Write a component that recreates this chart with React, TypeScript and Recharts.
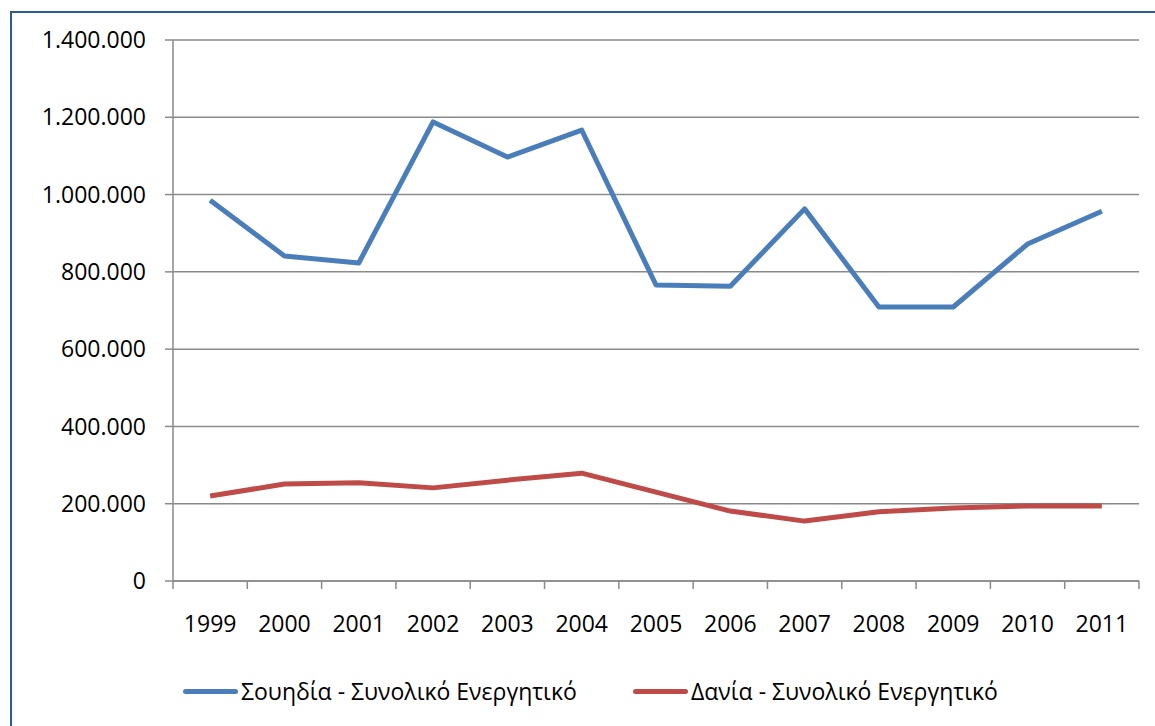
import { LineChart, Line, XAxis, YAxis, CartesianGrid, Legend } from "recharts";

const years = ["1999", "2000", "2001", "2002", "2003", "2004", "2005", "2006", "2007", "2008", "2009", "2010", "2011"];
const sweden = [985000, 841000, 823000, 1188000, 1097000, 1167000, 766000, 763000, 963000, 709000, 709000, 872000, 957000];
const denmark = [220000, 251000, 254000, 241000, 261000, 279000, 230000, 181000, 155000, 179000, 189000, 194000, 194000];
const yTicks = [0, 200000, 400000, 600000, 800000, 1000000, 1200000, 1400000];
const seriesNames = ["Σουηδία - Συνολικό Ενεργητικό", "Δανία - Συνολικό Ενεργητικό"];

const data = years.map((y, i) => ({ year: y, sweden: sweden[i], denmark: denmark[i] }));

const W = 1155;
const H = 726;
const PLOT_LEFT = 173;
const PLOT_RIGHT = 1139;
const PLOT_TOP = 40;
const PLOT_BOTTOM = 581;
const BAND = (PLOT_RIGHT - PLOT_LEFT) / years.length;
const FONT = "'Open Sans', sans-serif";
const BLUE = "#4a7ebb";
const RED = "#be4b48";
const GRID = "#8a8a8a";

const fmt = (v: number) => String(v).replace(/\B(?=(\d{3})+(?!\d))/g, ".");

function XTick(props: any) {
  const { x, index } = props;
  const ay = PLOT_BOTTOM;
  const left = x - BAND / 2;
  return (
    <g>
      <line x1={left} x2={left} y1={ay} y2={ay + 8} stroke={GRID} strokeWidth={1.5} />
      {index === years.length - 1 && (
        <line x1={x + BAND / 2} x2={x + BAND / 2} y1={ay} y2={ay + 8} stroke={GRID} strokeWidth={1.5} />
      )}
      <text x={x} y={623} textAnchor="middle" dominantBaseline="central" fontSize={23} fontFamily={FONT} fill="#000">
        {props.payload.value}
      </text>
    </g>
  );
}

function LegendContent() {
  const items = [
    { name: seriesNames[0], color: BLUE, x: 183 },
    { name: seriesNames[1], color: RED, x: 633 },
  ];
  return (
    <div style={{ position: "relative", width: W, height: 30 }}>
      {items.map((it) => (
        <div key={it.name} style={{ position: "absolute", left: it.x, top: 0, height: 30, display: "flex", alignItems: "center" }}>
          <span style={{ display: "inline-block", width: 55, height: 5, borderRadius: 3, background: it.color, marginRight: 3 }} />
          <span style={{ fontFamily: FONT, fontSize: 23, color: "#000", whiteSpace: "nowrap" }}>{it.name}</span>
        </div>
      ))}
    </div>
  );
}

export default function App() {
  return (
    <div style={{ position: "absolute", left: 0, top: 0, width: W, height: H, background: "#fff", overflow: "hidden" }}>
      <div
        style={{
          position: "absolute",
          left: 10,
          top: 11,
          width: W,
          height: H,
          borderTop: "2.5px solid #2d5a91",
          borderLeft: "2.5px solid #2d5a91",
        }}
      />
      <div style={{ position: "absolute", left: 0, top: 0 }}>
        <LineChart
          width={W}
          height={H}
          data={data}
          margin={{ top: PLOT_TOP, right: W - PLOT_RIGHT, bottom: H - PLOT_BOTTOM - 60, left: 0 }}
        >
          <CartesianGrid vertical={false} stroke={GRID} strokeWidth={1.5} />
          <XAxis
            dataKey="year"
            height={60}
            padding={{ left: BAND / 2, right: BAND / 2 }}
            axisLine={{ stroke: GRID, strokeWidth: 1.5 }}
            tickLine={false}
            tick={<XTick />}
            interval={0}
          />
          <YAxis
            width={PLOT_LEFT}
            domain={[0, 1400000]}
            ticks={yTicks}
            tickFormatter={fmt}
            axisLine={{ stroke: GRID, strokeWidth: 1.5 }}
            tickLine={{ stroke: GRID, strokeWidth: 1.5 }}
            tickSize={8}
            tickMargin={19}
            tick={{ fontSize: 23, fontFamily: FONT, fill: "#000" }}
          />
          <Legend
            verticalAlign="middle"
            align="center"
            layout="horizontal"
            content={<LegendContent />}
            wrapperStyle={{ top: 676, left: 0, width: W }}
          />
          <Line dataKey="sweden" name={seriesNames[0]} stroke={BLUE} strokeWidth={5} dot={false} isAnimationActive={false} strokeLinejoin="round" />
          <Line dataKey="denmark" name={seriesNames[1]} stroke={RED} strokeWidth={5} dot={false} isAnimationActive={false} strokeLinejoin="round" />
        </LineChart>
      </div>
    </div>
  );
}
